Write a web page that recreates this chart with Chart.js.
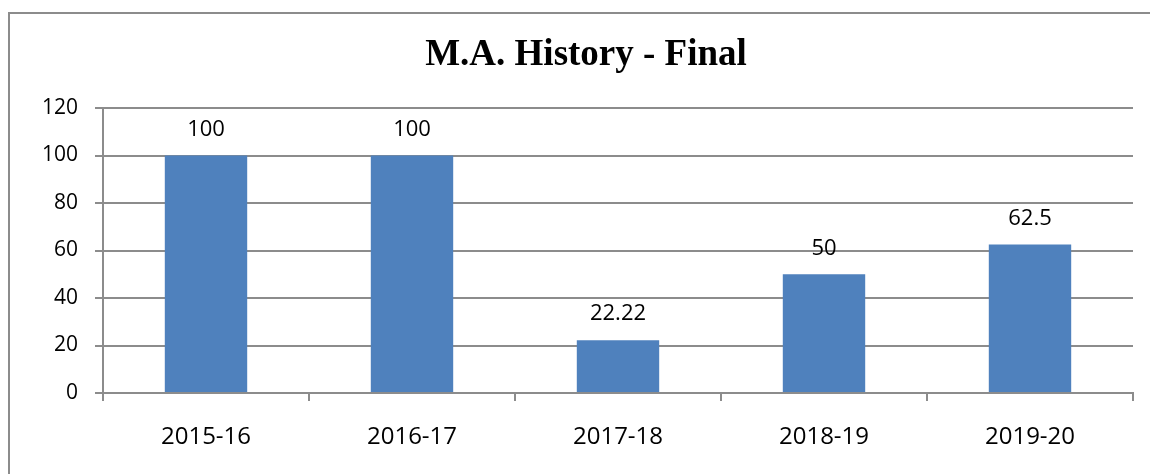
<!DOCTYPE html>
<html>
<head>
<meta charset="utf-8">
<script src="https://cdn.jsdelivr.net/npm/chart.js@4/dist/chart.umd.min.js"></script>
<style>
  html, body { margin: 0; padding: 0; background: #fff; }
  #wrap { width: 1150px; height: 474px; position: relative; }
</style>
</head>
<body>
<div id="wrap"><canvas id="c"></canvas></div>
<script>
const categories = ['2015-16', '2016-17', '2017-18', '2018-19', '2019-20'];
const values = [100, 100, 22.22, 50, 62.5];
const valueLabels = ['100', '100', '22.22', '50', '62.5'];
const yTicks = [0, 20, 40, 60, 80, 100, 120];

const gridColor = '#8c8c8c';
const sans = '"Open Sans", "Liberation Sans", sans-serif';
const xFont = { family: sans, size: 24 };
const yFont = { family: sans, size: 21 };
const labelFont = { family: sans, size: 22 };

// outer frame, cut off on the right and bottom like the source
const framePlugin = {
  id: 'frame',
  beforeDraw(chart) {
    const ctx = chart.ctx;
    ctx.save();
    ctx.strokeStyle = '#8c8c8c';
    ctx.lineWidth = 2;
    ctx.strokeRect(9, 13, 1160, 480);
    ctx.restore();
  },
};

// value text above each bar
const labelPlugin = {
  id: 'valueLabels',
  afterDatasetsDraw(chart) {
    const ctx = chart.ctx;
    const meta = chart.getDatasetMeta(0);
    ctx.save();
    ctx.font = `${labelFont.size}px ${labelFont.family}`;
    ctx.fillStyle = '#000';
    ctx.textAlign = 'center';
    ctx.textBaseline = 'middle';
    meta.data.forEach((bar, i) => {
      ctx.fillText(valueLabels[i], bar.x, bar.y - 26);
    });
    ctx.restore();
  },
};

new Chart(document.getElementById('c'), {
  type: 'bar',
  data: {
    labels: categories,
    datasets: [{
      data: values,
      backgroundColor: '#4f81bd',
      borderWidth: 0,
      categoryPercentage: 1,
      barPercentage: 0.4,
    }],
  },
  options: {
    responsive: true,
    maintainAspectRatio: false,
    animation: false,
    layout: { padding: { left: 39, right: 17, top: 0, bottom: 0 } },
    plugins: {
      legend: { display: false },
      tooltip: { enabled: false },
      title: {
        display: true,
        text: 'M.A. History - Final',
        color: '#000',
        font: { family: '"Liberation Serif", "Times New Roman", serif', size: 37, weight: 'bold', lineHeight: 1.2 },
        padding: { top: 33, bottom: 30.6 },
      },
    },
    scales: {
      x: {
        offset: true,
        grid: {
          display: true,
          offset: true,
          drawOnChartArea: false,
          drawTicks: true,
          tickLength: 8,
          color: gridColor,
          lineWidth: 2,
        },
        border: { display: true, color: gridColor, width: 2 },
        ticks: { color: '#000', font: xFont, padding: 22 },
        afterFit(scale) { scale.height = 81; },
      },
      y: {
        min: 0,
        max: 120,
        afterBuildTicks(scale) { scale.ticks = yTicks.map((v) => ({ value: v })); },
        grid: {
          color: gridColor,
          lineWidth: 2,
          tickLength: 8,
        },
        border: { display: true, color: gridColor, width: 2 },
        ticks: { color: '#000', font: yFont, padding: 17 },
        afterFit(scale) { scale.width = 64; },
      },
    },
  },
  plugins: [framePlugin, labelPlugin],
});
</script>
</body>
</html>
